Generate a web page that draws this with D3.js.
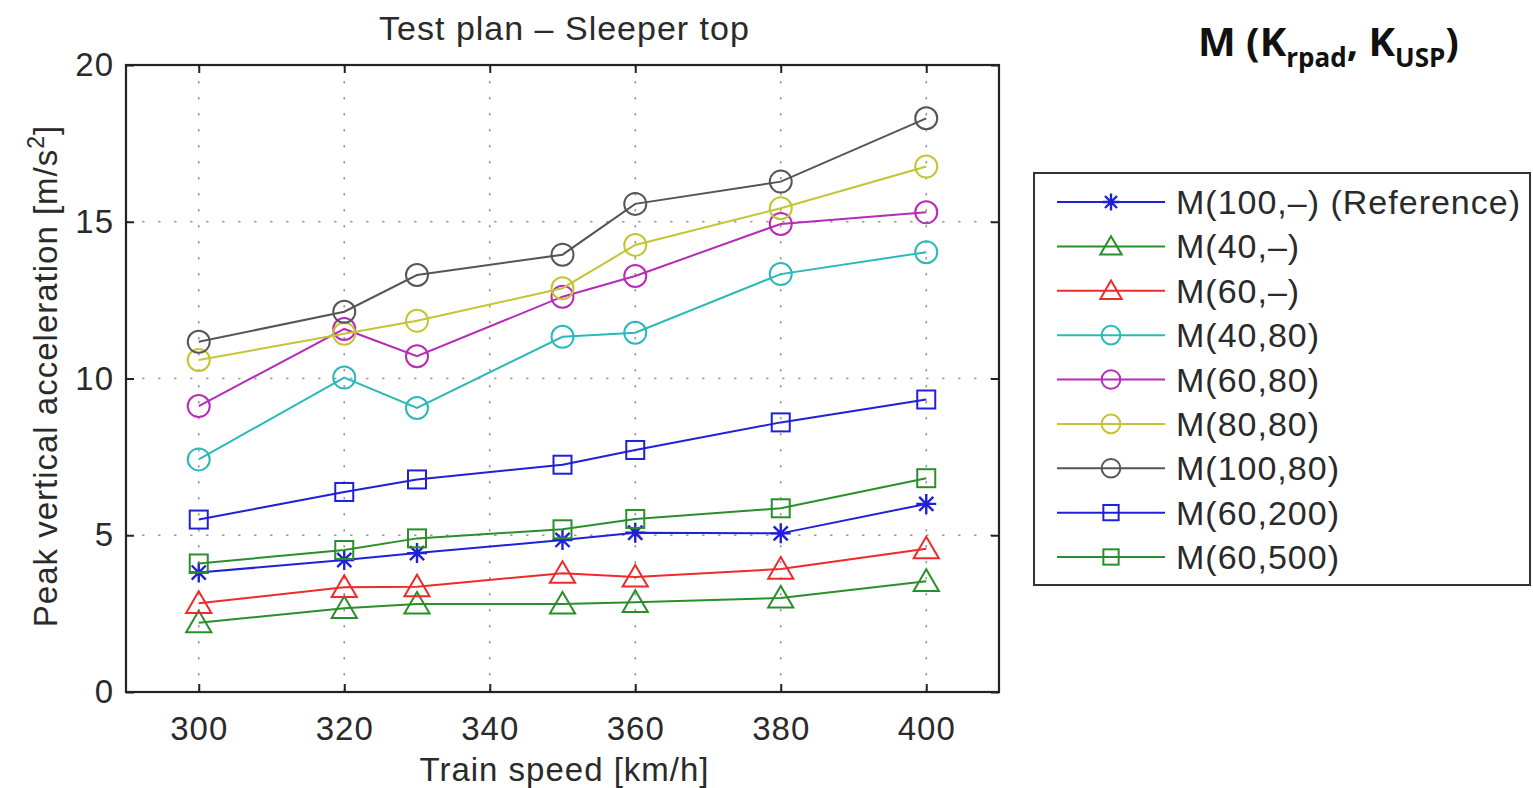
<!DOCTYPE html>
<html>
<head>
<meta charset="utf-8">
<script src="https://cdnjs.cloudflare.com/ajax/libs/d3/7.8.5/d3.min.js"></script>
<style>
  body { margin: 0; background: #fff; }
  text { font-family: "Liberation Sans", Arial, sans-serif; fill: #2a2a2a; letter-spacing: 1px; }
</style>
</head>
<body>
<div id="container"></div>
<script>
// speeds tested (km/h)
var speeds = [300, 320, 330, 350, 360, 380, 400];

// peak vertical acceleration per configuration, m/s^2
var ref100 = [3.81, 4.21, 4.43, 4.85, 5.08, 5.06, 6.0];
var m40 = [2.21, 2.67, 2.81, 2.81, 2.86, 3.0, 3.53];
var m60 = [2.83, 3.34, 3.36, 3.79, 3.67, 3.92, 4.57];
var m40_80 = [7.42, 10.03, 9.06, 11.33, 11.46, 13.33, 14.03];
var m60_80 = [9.12, 11.58, 10.71, 12.61, 13.27, 14.93, 15.3];
var m80_80 = [10.59, 11.43, 11.84, 12.88, 14.26, 15.43, 16.76];
var m100_80 = [11.17, 12.13, 13.3, 13.95, 15.57, 16.28, 18.3];
var m60_200 = [5.5, 6.38, 6.78, 7.25, 7.72, 8.6, 9.33];
var m60_500 = [4.1, 4.53, 4.9, 5.19, 5.52, 5.86, 6.82];

var seriesNames = ['M(100,\u2013) (Reference)', 'M(40,\u2013)', 'M(60,\u2013)', 'M(40,80)', 'M(60,80)',
    'M(80,80)', 'M(100,80)', 'M(60,200)', 'M(60,500)'];
var seriesValues = [ref100, m40, m60, m40_80, m60_80, m80_80, m100_80, m60_200, m60_500];
var seriesMarkers = ['star', 'triangle', 'triangle', 'circle', 'circle', 'circle', 'circle', 'square', 'square'];
var seriesColors = ['#2020d8', '#2a8f2a', '#ee2a2a', '#2ab8b8', '#b82ab8', '#c4c434', '#555555', '#2020d8', '#2a8f2a'];

var xTicks = [300, 320, 340, 360, 380, 400];
var yTicks = [0, 5, 10, 15, 20];

var plot = { left: 126, top: 65, right: 999, bottom: 692 };

var svg = d3.select('#container').append('svg')
    .attr('width', 1533)
    .attr('height', 788);

var x = d3.scaleLinear().domain([290, 410]).range([plot.left, plot.right]);
var y = d3.scaleLinear().domain([0, 20]).range([plot.bottom, plot.top]);

// grid
var grid = svg.append('g');
grid.selectAll('.vgrid').data(xTicks).enter().append('line')
    .attr('x1', function (d) { return x(d); })
    .attr('x2', function (d) { return x(d); })
    .attr('y1', plot.top)
    .attr('y2', plot.bottom)
    .attr('stroke', '#9a9a9a')
    .attr('stroke-width', 1.6)
    .attr('stroke-dasharray', '2.5,13.5');
grid.selectAll('.hgrid').data(yTicks.slice(1, 4)).enter().append('line')
    .attr('x1', plot.left)
    .attr('x2', plot.right)
    .attr('y1', function (d) { return y(d); })
    .attr('y2', function (d) { return y(d); })
    .attr('stroke', '#9a9a9a')
    .attr('stroke-width', 1.6)
    .attr('stroke-dasharray', '2.5,13.5');

// axes (ticks inside, mirrored on top/right)
var axisStyle = function (g) {
    g.select('.domain').remove();
    g.selectAll('.tick line').attr('stroke', '#222').attr('stroke-width', 2);
    g.selectAll('.tick text').attr('fill', '#2a2a2a')
        .style('font-family', '"Liberation Sans", Arial, sans-serif')
        .style('font-size', '33px');
};
svg.append('g').attr('transform', 'translate(0,' + plot.bottom + ')')
    .call(d3.axisBottom(x).tickValues(xTicks).tickSize(-8).tickPadding(24).tickFormat(d3.format('d')))
    .call(axisStyle)
    .selectAll('.tick text').attr('dy', '0.72em');
svg.append('g').attr('transform', 'translate(0,' + plot.top + ')')
    .call(d3.axisTop(x).tickValues(xTicks).tickSize(-8).tickFormat(''))
    .call(axisStyle);
svg.append('g').attr('transform', 'translate(' + plot.left + ',0)')
    .call(d3.axisLeft(y).tickValues(yTicks).tickSize(-8).tickPadding(12).tickFormat(d3.format('d')))
    .call(axisStyle);
svg.append('g').attr('transform', 'translate(' + plot.right + ',0)')
    .call(d3.axisRight(y).tickValues(yTicks).tickSize(-8).tickFormat(''))
    .call(axisStyle);

svg.append('rect')
    .attr('x', plot.left).attr('y', plot.top)
    .attr('width', plot.right - plot.left).attr('height', plot.bottom - plot.top)
    .attr('fill', 'none').attr('stroke', '#222').attr('stroke-width', 2.2);

function drawMarker(g, type, cx, cy, color, scale) {
    var s = scale || 1;
    if (type == 'circle') {
        g.append('circle').attr('cx', cx).attr('cy', cy).attr('r', 11 * s)
            .attr('fill', 'none').attr('stroke', color).attr('stroke-width', 2);
    } else if (type == 'square') {
        g.append('rect').attr('x', cx - 9 * s).attr('y', cy - 9 * s)
            .attr('width', 18 * s).attr('height', 18 * s)
            .attr('fill', 'none').attr('stroke', color).attr('stroke-width', 2);
    } else if (type == 'triangle') {
        var h = 12 * s;
        g.append('path')
            .attr('d', 'M' + cx + ',' + (cy - h) + 'L' + (cx + h * 1.05) + ',' + (cy + h * 0.8) +
                'L' + (cx - h * 1.05) + ',' + (cy + h * 0.8) + 'Z')
            .attr('fill', 'none').attr('stroke', color).attr('stroke-width', 2);
    } else {
        var r = 10 * s;
        var d = '';
        for (var a = 0; a < 4; a++) {
            var ang = a * Math.PI / 4;
            d += 'M' + (cx + r * Math.sin(ang)) + ',' + (cy - r * Math.cos(ang)) +
                'L' + (cx - r * Math.sin(ang)) + ',' + (cy + r * Math.cos(ang));
        }
        g.append('path').attr('d', d).attr('stroke', color).attr('stroke-width', 2.4);
    }
}

// series
var line = d3.line()
    .x(function (d, i) { return x(speeds[i]); })
    .y(function (d) { return y(d); });

for (var index = 0; index < seriesValues.length; index++) {
    var g = svg.append('g');
    g.append('path')
        .attr('d', line(seriesValues[index]))
        .attr('fill', 'none')
        .attr('stroke', seriesColors[index])
        .attr('stroke-width', 2);
    for (var j = 0; j < speeds.length; j++) {
        drawMarker(g, seriesMarkers[index], x(speeds[j]), y(seriesValues[index][j]), seriesColors[index]);
    }
}

// titles
svg.append('text')
    .attr('x', (plot.left + plot.right) / 2 + 2).attr('y', 40)
    .attr('text-anchor', 'middle')
    .style('font-size', '34px')
    .text('Test plan \u2013 Sleeper top');

svg.append('text')
    .attr('x', (plot.left + plot.right) / 2 + 2).attr('y', 781)
    .attr('text-anchor', 'middle')
    .style('font-size', '33px')
    .text('Train speed [km/h]');

var yLabel = svg.append('text')
    .attr('transform', 'translate(57,' + 376 + ') rotate(-90)')
    .attr('text-anchor', 'middle')
    .style('font-size', '33px');
yLabel.append('tspan').text('Peak vertical acceleration [m/s');
yLabel.append('tspan').attr('dy', -13).style('font-size', '23px').text('2');
yLabel.append('tspan').attr('dy', 13).text(']');

// legend
var legend = svg.append('g');
legend.append('rect')
    .attr('x', 1034).attr('y', 173)
    .attr('width', 496).attr('height', 412)
    .attr('fill', '#fff').attr('stroke', '#333').attr('stroke-width', 2);

var legendRow = d3.scalePoint().domain(d3.range(seriesNames.length)).range([202, 557]);
for (var k = 0; k < seriesNames.length; k++) {
    var ly = legendRow(k);
    legend.append('line')
        .attr('x1', 1057).attr('x2', 1165)
        .attr('y1', ly).attr('y2', ly)
        .attr('stroke', seriesColors[k]).attr('stroke-width', 2);
    drawMarker(legend, seriesMarkers[k], 1111, ly, seriesColors[k], 0.85);
    legend.append('text')
        .attr('x', 1176).attr('y', ly + 12)
        .style('font-size', '34px')
        .text(seriesNames[k]);
}

// annotation
var note = svg.append('text')
    .attr('x', 1198).attr('y', 56)
    .style('font-family', '"Open Sans", "Noto Sans", sans-serif')
    .style('font-weight', 'bold')
    .style('font-size', '40px')
    .style('letter-spacing', '0px')
    .style('fill', '#111');
note.append('tspan').text('M (K');
note.append('tspan').attr('dy', 11).style('font-size', '26px').text('rpad');
note.append('tspan').attr('dy', -11).text(', K');
note.append('tspan').attr('dy', 11).style('font-size', '26px').text('USP');
note.append('tspan').attr('dy', -11).text(')');
</script>
</body>
</html>
